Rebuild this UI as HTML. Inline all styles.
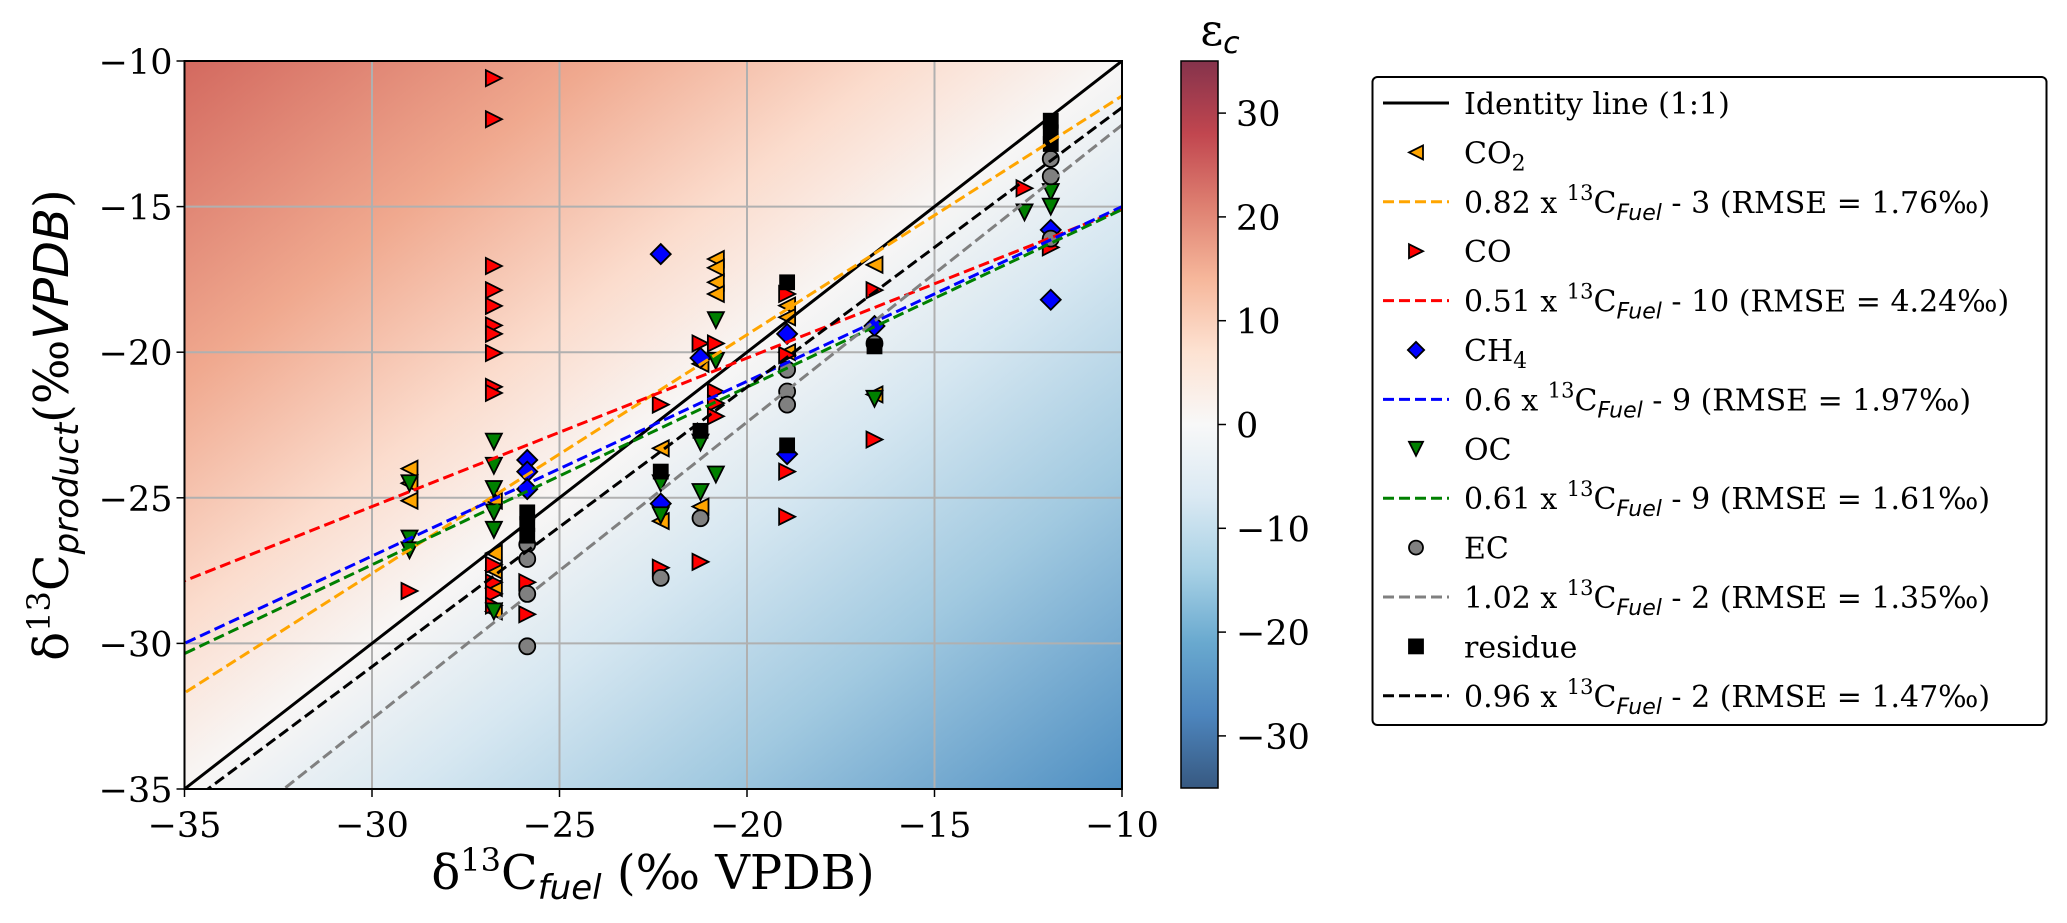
<!DOCTYPE html>
<html><head><meta charset="utf-8">
<style>
html,body{margin:0;padding:0;background:#fff;overflow:hidden;width:2067px;height:923px;}
svg{display:block;font-family:"DejaVu Serif","Liberation Serif",serif;}
.tick{font-size:35px;fill:#000;}
.leg{font-size:30px;fill:#000;}
</style></head>
<body>
<svg id="chart" width="2067" height="923" viewBox="0 0 2067 923">
<defs>
<linearGradient id="bg" x1="0" y1="0" x2="1" y2="1">
<stop offset="0" stop-color="#d3695f"/>
<stop offset="0.22" stop-color="#f0a98f"/>
<stop offset="0.38" stop-color="#fbdccd"/>
<stop offset="0.5" stop-color="#f8f6f5"/>
<stop offset="0.62" stop-color="#d6e7f1"/>
<stop offset="0.78" stop-color="#a1c9e0"/>
<stop offset="1" stop-color="#4f8fc2"/>
</linearGradient>
<linearGradient id="cb" x1="0" y1="0" x2="0" y2="1">
<stop offset="0" stop-color="#85334c"/>
<stop offset="0.1" stop-color="#c1464f"/>
<stop offset="0.2" stop-color="#de8071"/>
<stop offset="0.3" stop-color="#f6b79b"/>
<stop offset="0.4" stop-color="#fde2d2"/>
<stop offset="0.5" stop-color="#f8f8f8"/>
<stop offset="0.6" stop-color="#dae9f3"/>
<stop offset="0.7" stop-color="#a8d1e5"/>
<stop offset="0.8" stop-color="#69a9cf"/>
<stop offset="0.9" stop-color="#4d85bd"/>
<stop offset="1" stop-color="#375981"/>
</linearGradient>
<clipPath id="plotclip"><rect x="184.5" y="61" width="937.5" height="728"/></clipPath>
</defs>
<rect x="184.5" y="61" width="937.5" height="728" fill="url(#bg)"/>
<g id="grid"></g>
<g id="marks" clip-path="url(#plotclip)"></g>
<g id="lines" clip-path="url(#plotclip)"></g>
<rect x="184.5" y="61" width="937.5" height="728" fill="none" stroke="#000" stroke-width="2"/>
<g id="axes"></g>
<text x="653" y="889" text-anchor="middle" font-size="48">δ<tspan font-size="32" dy="-18">13</tspan><tspan dy="18">C</tspan><tspan font-family="DejaVu Sans" font-style="italic" font-size="34" dy="10">fuel</tspan><tspan dy="-10"> (‰ VPDB)</tspan></text>
<text transform="translate(68,425) rotate(-90)" text-anchor="middle" font-size="48">δ<tspan font-size="32" dy="-18">13</tspan><tspan dy="18">C</tspan><tspan font-family="DejaVu Sans" font-style="italic" font-size="34" dy="10">product</tspan><tspan dy="-10">(‰</tspan><tspan font-family="DejaVu Sans" font-style="italic">VPDB</tspan>)</text>
<rect x="1181" y="61" width="37" height="727" fill="url(#cb)" stroke="#000" stroke-width="1.5"/>
<g id="cbticks"></g>
<text x="1220" y="45" font-size="44" text-anchor="middle">ε<tspan font-family="DejaVu Sans" font-style="italic" font-size="30" dy="8">c</tspan></text>
<rect x="1372.5" y="77" width="674" height="648" rx="5" fill="#fff" stroke="#000" stroke-width="2"/>
<g id="legend"></g>
</svg>
<script>
const xTicks=[-35,-30,-25,-20,-15,-10];
const yTicks=[-35,-30,-25,-20,-15,-10];
const cbTickVals=[30,20,10,0,-10,-20,-30];
const seriesNames=["CO2","CO","CH4","OC","EC","residue"];
const co2X=[-29,-29,-29,-26.75,-26.75,-26.75,-26.75,-26.75,-22.3,-22.3,-21.24,-21.24,-20.83,-20.83,-20.83,-20.83,-18.93,-18.93,-18.93,-16.6,-16.6];
const co2Y=[-24.0,-24.5,-25.1,-25.1,-26.9,-27.5,-28.1,-28.9,-23.3,-25.8,-25.3,-20.4,-16.8,-17.1,-17.6,-18.0,-18.4,-18.8,-20.0,-17.0,-21.45];
const coX=[-26.75,-26.75,-26.75,-26.75,-26.75,-26.75,-26.75,-26.75,-26.75,-26.75,-26.75,-26.75,-26.75,-26.75,-29,-25.86,-25.86,-22.3,-22.3,-21.24,-21.24,-20.83,-20.83,-20.83,-20.83,-18.93,-18.93,-18.93,-18.93,-16.6,-16.6,-12.6,-11.9];
const coY=[-10.59,-12.0,-17.04,-17.87,-18.41,-19.08,-19.37,-20.03,-21.19,-21.4,-27.3,-27.9,-28.3,-28.7,-28.2,-27.9,-29.0,-21.8,-27.4,-27.2,-19.7,-19.7,-21.35,-21.75,-22.2,-18.0,-24.1,-25.65,-20.1,-17.87,-23.0,-14.37,-16.4];
const ch4X=[-22.3,-22.3,-25.86,-25.86,-25.86,-21.24,-18.93,-18.93,-16.6,-11.9,-11.9];
const ch4Y=[-16.63,-25.2,-23.7,-24.1,-24.7,-20.2,-19.37,-23.5,-19.1,-15.8,-18.2];
const ocX=[-29,-29,-29,-26.75,-26.75,-26.75,-26.75,-26.75,-26.75,-22.3,-22.3,-21.24,-21.24,-20.83,-20.83,-20.83,-16.6,-12.6,-11.9,-11.9];
const ocY=[-24.5,-26.4,-26.8,-23.07,-23.9,-24.7,-25.5,-26.1,-28.9,-24.5,-25.6,-24.8,-23.1,-18.9,-20.3,-24.2,-21.6,-15.2,-14.5,-15.0];
const ecX=[-25.86,-25.86,-25.86,-25.86,-22.3,-21.24,-18.93,-18.93,-18.93,-16.6,-11.9,-11.9,-11.9];
const ecY=[-26.6,-27.1,-28.3,-30.1,-27.75,-25.7,-20.6,-21.35,-21.8,-19.7,-13.36,-13.96,-16.1];
const resX=[-25.86,-25.86,-25.86,-22.3,-21.24,-18.93,-18.93,-16.6,-11.9,-11.9,-11.9];
const resY=[-25.5,-25.9,-26.3,-24.1,-22.7,-23.2,-17.6,-19.8,-12.05,-12.45,-12.85];
const fitSlopes=[0.82,0.51,0.6,0.61,1.02,0.96];
const fitIntercepts=[-3,-10,-9,-9,-2,-2];
const fitRmse=["1.76","4.24","1.97","1.61","1.35","1.47"];

const NS="http://www.w3.org/2000/svg";
const X0=184.5,X1=1122,Y0=789,Y1=61;
function sx(v){return X0+(v+35)/25*(X1-X0);}
function sy(v){return Y0-(v+35)/25*(Y0-Y1);}
function cby(v){return 424.5-v*10.38;}
function mk(tag,attrs,parent){const e=document.createElementNS(NS,tag);for(const k in attrs)e.setAttribute(k,attrs[k]);parent.appendChild(e);return e;}
const grid=document.getElementById('grid'),axes=document.getElementById('axes');
xTicks.forEach(v=>{
  const l=mk('line',{x1:sx(v),x2:sx(v),y1:Y1,y2:Y0,stroke:'#b0b0b0','stroke-width':2},grid);
  
  
  const t=mk('line',{x1:sx(v),x2:sx(v),y1:Y0,y2:Y0+8,stroke:'#000','stroke-width':1.5},axes);
  
  
  const tx=mk('text',{x:sx(v),y:Y0+48,'text-anchor':'middle',class:'tick'},axes);
  tx.textContent=String(v).replace('-','\u2212');
  
  
});
yTicks.forEach(v=>{
  const l=mk('line',{x1:X0,x2:X1,y1:sy(v),y2:sy(v),stroke:'#b0b0b0','stroke-width':2},grid);
  
  
  const t=mk('line',{x1:X0-8,x2:X0,y1:sy(v),y2:sy(v),stroke:'#000','stroke-width':1.5},axes);
  
  
  const tx=mk('text',{x:X0-12,y:sy(v)+13,'text-anchor':'end',class:'tick'},axes);
  tx.textContent=String(v).replace('-','\u2212');
  
  
});
const cbt=document.getElementById('cbticks');
cbTickVals.forEach(v=>{
  const t=mk('line',{x1:1218,x2:1226,y1:cby(v),y2:cby(v),stroke:'#000','stroke-width':1.5},cbt);
  
  
  const tx=mk('text',{x:1236,y:cby(v)+13,class:'tick'},cbt);
  tx.textContent=String(v).replace('-','\u2212');
  
  
});
function marker(shape,x,y,fill,parent,s){
  s=s||8;let e;
  if(shape==='left')e=mk('polygon',{points:`${x-s},${y} ${x+s},${y-s} ${x+s},${y+s}`},parent);
  else if(shape==='right')e=mk('polygon',{points:`${x+s},${y} ${x-s},${y-s} ${x-s},${y+s}`},parent);
  else if(shape==='down')e=mk('polygon',{points:`${x-s},${y-s} ${x+s},${y-s} ${x},${y+s}`},parent);
  else if(shape==='diamond')e=mk('polygon',{points:`${x},${y-s*1.25} ${x+s*1.25},${y} ${x},${y+s*1.25} ${x-s*1.25},${y}`},parent);
  else if(shape==='circle')e=mk('circle',{cx:x,cy:y,r:s},parent);
  else e=mk('rect',{x:x-s+1,y:y-s+1,width:2*s-2,height:2*s-2},parent);
  e.setAttribute('fill',fill);e.setAttribute('stroke','#000');e.setAttribute('stroke-width',1.8);
  return e;
}
const marks=document.getElementById('marks');
const seriesDefs=[[co2X,co2Y,'left','#ffa500'],[coX,coY,'right','#ff0000'],[ch4X,ch4Y,'diamond','#0000ff'],[ocX,ocY,'down','#008000'],[ecX,ecY,'circle','#808080'],[resX,resY,'square','#000000']];
seriesDefs.forEach((d,i)=>{
  const g=mk('g',{},marks);
  
  
  d[0].forEach((xv,j)=>{
    const p=marker(d[2],sx(xv),sy(d[1][j]),d[3],g);
    
    
  });
});
const lines=document.getElementById('lines');
const fitColors=['#ffa500','#ff0000','#0000ff','#008000','#808080','#000000'];
const id=mk('line',{x1:sx(-35),y1:sy(-35),x2:sx(-10),y2:sy(-10),stroke:'#000','stroke-width':3},lines);


fitSlopes.forEach((m,i)=>{
  const b=fitIntercepts[i];
  const l=mk('line',{x1:sx(-40),y1:sy(m*-40+b),x2:sx(-10),y2:sy(m*-10+b),stroke:fitColors[i],'stroke-width':3,'stroke-dasharray':'11,5'},lines);
  
  
});
const leg=document.getElementById('legend');
const ROW0=103,DR=49.4,TX=1464;
function legText(y,html,name){
  const t=mk('text',{x:TX,y:y+11,class:'leg'},leg);
  t.innerHTML=html;
  
  
}
let e=mk('line',{x1:1383,x2:1449,y1:ROW0,y2:ROW0,stroke:'#000','stroke-width':3},leg);


legText(ROW0,'Identity line (1:1)','legend-identity-label');
const legLabels=['CO<tspan font-size="22" dy="7">2</tspan>','CO','CH<tspan font-size="22" dy="7">4</tspan>','OC','EC','residue'];
seriesDefs.forEach((d,i)=>{
  const y1=ROW0+DR*(1+2*i),y2=y1+DR;
  const m=marker(d[2],1416,y1,d[3],leg,d[2]==='diamond'?6.5:d[2]==='square'?8:7);
  
  
  legText(y1,legLabels[i],'legend-label-'+seriesNames[i].toLowerCase());
  const l=mk('line',{x1:1383,x2:1449,y1:y2,y2:y2,stroke:fitColors[i],'stroke-width':3,'stroke-dasharray':'11,5'},leg);
  
  
  legText(y2,`${fitSlopes[i]} x <tspan font-size="21" dy="-13">13</tspan><tspan dy="13">C</tspan><tspan font-family="DejaVu Sans" font-style="italic" font-size="22" dy="7">Fuel</tspan><tspan dy="-7"> - ${-fitIntercepts[i]} (RMSE = ${fitRmse[i]}‰)</tspan>`,'legend-fit-label-'+seriesNames[i].toLowerCase());
});
</script>
</body></html>
